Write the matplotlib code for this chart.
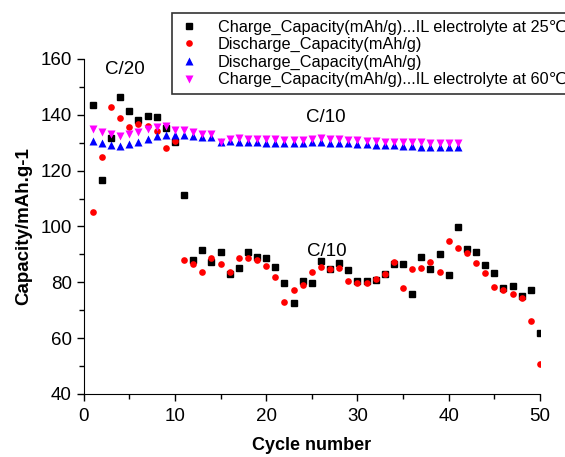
import numpy as np
import matplotlib
matplotlib.use("Agg")
from matplotlib import pyplot as plt
from matplotlib.ticker import MultipleLocator

plt.rcParams['font.family'] = ['Liberation Sans', 'DejaVu Sans']

# 25 C cell, cycles 1-50
cycles_25 = np.arange(1, 51)
charge_25 = [143.5, 116.6, 131.8, 146.3, 141.5, 138.0, 139.7, 139.1, 135.2, 130.4,
             111.1, 88.0, 91.5, 87.4, 90.8, 82.9, 85.0, 90.8, 89.1, 88.6,
             85.6, 79.8, 72.7, 80.5, 79.6, 87.5, 84.8, 87.0, 84.3, 80.4,
             80.5, 80.8, 82.8, 86.5, 86.4, 75.9, 88.9, 84.6, 90.0, 82.5,
             99.8, 91.8, 90.8, 86.1, 83.2, 78.0, 78.6, 75.2, 77.2, 61.7]
discharge_25 = [105.2, 124.8, 142.7, 138.7, 135.5, 136.7, 136.1, 134.1, 128.1, 130.6,
                88.0, 86.6, 83.7, 88.6, 86.6, 83.7, 88.8, 88.8, 88.0, 85.9,
                81.9, 72.8, 77.1, 79.0, 83.8, 85.4, 84.8, 85.1, 80.3, 79.8,
                79.6, 81.3, 83.0, 87.4, 77.8, 84.7, 85.0, 87.1, 83.8, 94.9,
                92.4, 90.4, 86.8, 83.2, 78.4, 77.3, 75.7, 74.2, 66.3, 50.8]

# 60 C cell, cycles 1-41
cycles_60 = np.arange(1, 42)
discharge_60 = [130.6, 129.9, 129.2, 128.9, 129.5, 130.4, 131.4, 132.4, 132.6, 132.8,
                132.6, 132.4, 132.2, 131.9, 130.3, 130.6, 130.4, 130.3, 130.1, 130.0,
                129.9, 129.8, 129.8, 129.9, 130.1, 130.2, 130.0, 129.9, 129.8, 129.6,
                129.5, 129.3, 129.2, 129.0, 128.8, 128.7, 128.6, 128.5, 128.4, 128.3, 128.3]
charge_60 = [134.8, 133.8, 133.0, 132.5, 133.1, 133.8, 134.9, 135.5, 135.9, 134.6,
             134.6, 133.8, 133.2, 133.2, 130.4, 131.4, 131.6, 131.4, 131.3, 131.2,
             131.2, 130.9, 130.9, 131.1, 131.5, 131.7, 131.5, 131.3, 131.1, 130.9,
             130.7, 130.5, 130.3, 130.1, 130.3, 130.2, 130.1, 130.0, 129.9, 129.9, 129.8]

labels = ['Charge_Capacity(mAh/g)...IL electrolyte at 25\u2103',
          'Discharge_Capacity(mAh/g)',
          'Discharge_Capacity(mAh/g)',
          'Charge_Capacity(mAh/g)...IL electrolyte at 60\u2103']

fig = plt.figure(figsize=(5.65, 4.57), dpi=100)
ax = fig.add_axes([0.148, 0.138, 0.8076, 0.733])

ax.plot(cycles_25, charge_25, 's', color='black', ms=4.5, label=labels[0])
ax.plot(cycles_25, discharge_25, 'o', color='red', ms=4.8, mec='none', label=labels[1])
ax.plot(cycles_60, discharge_60, '^', color='blue', ms=5.2, mec='none', label=labels[2])
ax.plot(cycles_60, charge_60, 'v', color='magenta', ms=5.2, mec='none', label=labels[3])

ax.set_xlim(0, 50)
ax.set_ylim(40, 160)
ax.xaxis.set_major_locator(MultipleLocator(10))
ax.xaxis.set_minor_locator(MultipleLocator(5))
ax.yaxis.set_major_locator(MultipleLocator(20))
ax.yaxis.set_minor_locator(MultipleLocator(10))
ax.tick_params(which='both', direction='out', width=1, labelsize=13.5)
ax.tick_params(which='major', length=5)
ax.tick_params(which='minor', length=3.5)
ax.tick_params(axis='x', pad=5)
ax.spines['top'].set_visible(False)
ax.spines['right'].set_visible(False)

ax.set_xlabel('Cycle number', fontsize=13, fontweight='bold', labelpad=9)
ax.set_ylabel('Capacity/mAh.g-1', fontsize=13.5, fontweight='bold', labelpad=6)

ax.text(4.5, 156.3, 'C/20', fontsize=13.5, ha='center', va='center')
ax.text(26.5, 139, 'C/10', fontsize=13.5, ha='center', va='center')
ax.text(26.6, 91, 'C/10', fontsize=13.5, ha='center', va='center')

leg = fig.legend(loc='upper left', bbox_to_anchor=(172 / 565, 1 - 13 / 457),
                 fontsize=11.7, frameon=True, fancybox=False, borderpad=0.4,
                 labelspacing=0.15, handletextpad=1.1, handlelength=1.3,
                 borderaxespad=0)
leg.get_frame().set_edgecolor('black')
leg.get_frame().set_linewidth(1.2)

fig.savefig('out.png', dpi=100)
